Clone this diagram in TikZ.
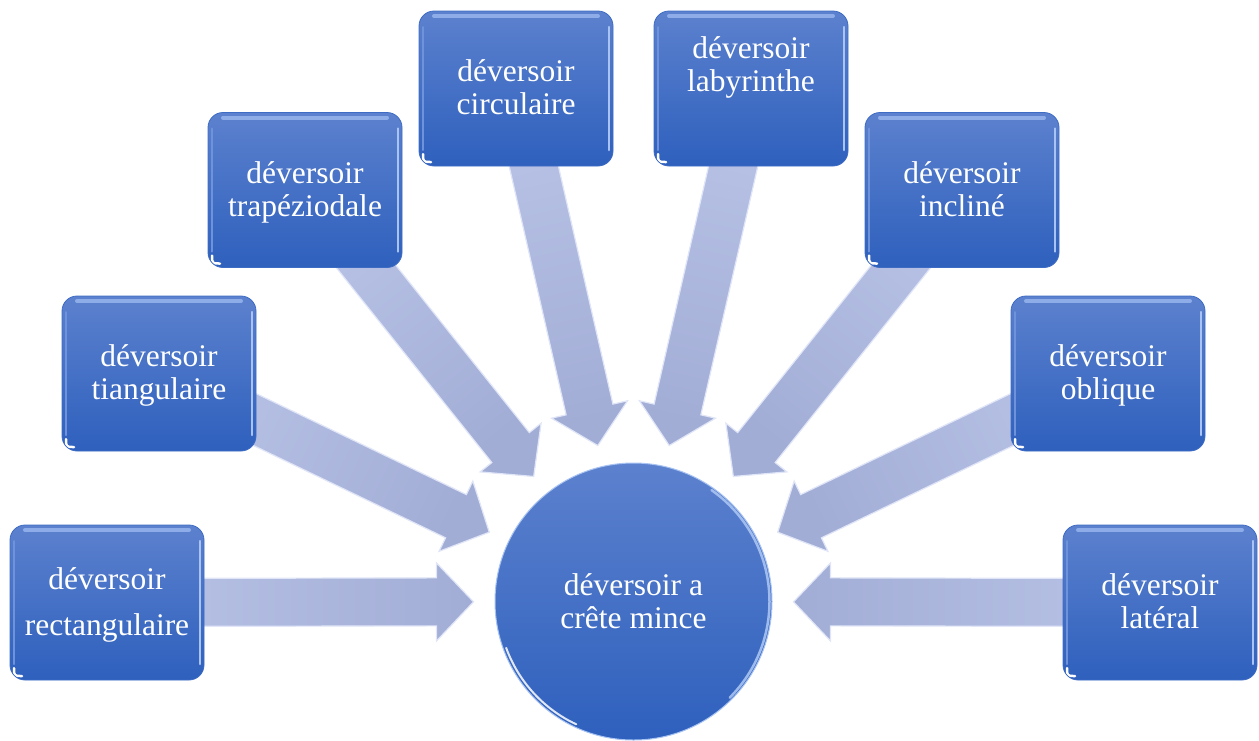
\documentclass[tikz,border=0pt]{standalone}
\usepackage{fontspec}
\setmainfont{Liberation Serif}
\usetikzlibrary{calc}
\definecolor{boxtop}{HTML}{5C81CE}
\definecolor{boxbot}{HTML}{2E60BD}
\definecolor{boxedge}{HTML}{3E6CC4}
\definecolor{arrlight}{HTML}{BAC4E7}
\definecolor{arrdark}{HTML}{A2ADD6}
\definecolor{arredge}{HTML}{E0E6F7}
\definecolor{rimlight}{HTML}{A9C4F2}
\definecolor{topband}{HTML}{93B1EB}
\definecolor{leftband}{HTML}{6E93DA}
\pgfdeclarelayer{bg}
\pgfsetlayers{bg,main}
\newcommand\radarrow[2]{%
  \coordinate (H#1) at ($(c)!197pt!(#1)$);
  \coordinate (T#1) at ($(c)!160pt!(#1)$);
  \path[arrowbody, shading angle=#2]
    ($(#1)!24pt!-90:(H#1)$) -- ($(H#1)!24pt!90:(#1)$) -- ($(H#1)!39pt!90:(#1)$) -- (T#1)
    -- ($(H#1)!39pt!-90:(#1)$) -- ($(H#1)!24pt!-90:(#1)$) -- ($(#1)!24pt!90:(H#1)$) -- cycle;
}
\tikzset{
  boxnode/.style={rounded corners=15pt, minimum width=194pt, minimum height=155pt,
    inner sep=0pt, top color=boxtop, bottom color=boxbot, draw=boxedge, line width=0.8pt,
    path picture={
      \draw[topband, line width=4pt, line cap=round, opacity=0.9]
        ([xshift=15pt,yshift=-5pt]path picture bounding box.north west) --
        ([xshift=-15pt,yshift=-5pt]path picture bounding box.north east);
      \draw[rimlight, line width=2.5pt, line cap=round]
        ([xshift=-4pt,yshift=-16pt]path picture bounding box.north east) --
        ([xshift=-4pt,yshift=16pt]path picture bounding box.south east);
      \draw[leftband, line width=2pt, line cap=round]
        ([xshift=4pt,yshift=-16pt]path picture bounding box.north west) --
        ([xshift=4pt,yshift=16pt]path picture bounding box.south west);
      \draw[white, line width=2.5pt, line cap=round]
        ([xshift=4pt,yshift=12pt]path picture bounding box.south west) ..
        controls ([xshift=4pt,yshift=4pt]path picture bounding box.south west) ..
        ([xshift=12pt,yshift=4pt]path picture bounding box.south west);
    }},
  arrowbody/.style={top color=arrlight, bottom color=arrdark, draw=arredge,
    line width=1.2pt, line join=miter},
  lbl/.style={text=white, align=center, inner sep=0pt,
    font=\fontsize{31.5}{33}\selectfont},
  lblwide/.style={text=white, align=center, inner sep=0pt,
    font=\fontsize{31.5}{46}\selectfont},
}
\begin{document}
\begin{tikzpicture}[x=1pt, y=-1pt]
\useasboundingbox (0,0) rectangle (1259,740);

% central circle
\node[circle, minimum size=277pt, inner sep=0pt, top color=boxtop, bottom color=boxbot,
      draw=rimlight, line width=1pt] (c) at (633.5,601.5) {};
\begin{scope}[shift={(c)}, y=1pt]
  \draw[rimlight, line width=2.5pt, line cap=round, opacity=0.9] (-45:136) arc[start angle=-45, end angle=55, radius=136];
  \draw[white, line width=2pt, line cap=round, opacity=0.85] (200:135.5) arc[start angle=200, end angle=245, radius=135.5];
\end{scope}

% boxes
\node[boxnode] (b1) at (107,602.5) {};
\node[boxnode] (b2) at (159,373.5) {};
\node[boxnode] (b3) at (305,190) {};
\node[boxnode] (b4) at (516,88.5) {};
\node[boxnode] (b5) at (751,88.5) {};
\node[boxnode] (b6) at (962,190) {};
\node[boxnode] (b7) at (1108,373.5) {};
\node[boxnode] (b8) at (1160,602.5) {};

% labels
\node[lblwide] (t1) at ($(b1)+(0,0.3)$) {\strut déversoir\\\strut rectangulaire};
\node[lbl] (t2) at ($(b2)+(0,2.9)$) {\strut déversoir\\\strut tiangulaire};
\node[lbl] (t3) at ($(b3)+(0,2.9)$) {\strut déversoir\\\strut trapéziodale};
\node[lbl] (t4) at ($(b4)+(0,2.9)$) {\strut déversoir\\\strut circulaire};
\node[lbl] (t5) at ($(b5)+(0,-20)$) {\strut déversoir\\\strut labyrinthe};
\node[lbl] (t6) at ($(b6)+(0,2.9)$) {\strut déversoir\\\strut incliné};
\node[lbl] (t7) at ($(b7)+(0,2.9)$) {\strut déversoir\\\strut oblique};
\node[lbl] (t8) at ($(b8)+(0,2.9)$) {\strut déversoir\\\strut latéral};
\node[lbl] (tc) at ($(c)+(0,3.4)$) {\strut déversoir a\\\strut crête mince};

% arrows (behind the boxes)
\begin{pgfonlayer}{bg}
  \radarrow{b1}{90}
  \radarrow{b2}{64.3}
  \radarrow{b3}{38.6}
  \radarrow{b4}{12.9}
  \radarrow{b5}{-12.9}
  \radarrow{b6}{-38.6}
  \radarrow{b7}{-64.3}
  \radarrow{b8}{-90}
\end{pgfonlayer}
\end{tikzpicture}
\end{document}
